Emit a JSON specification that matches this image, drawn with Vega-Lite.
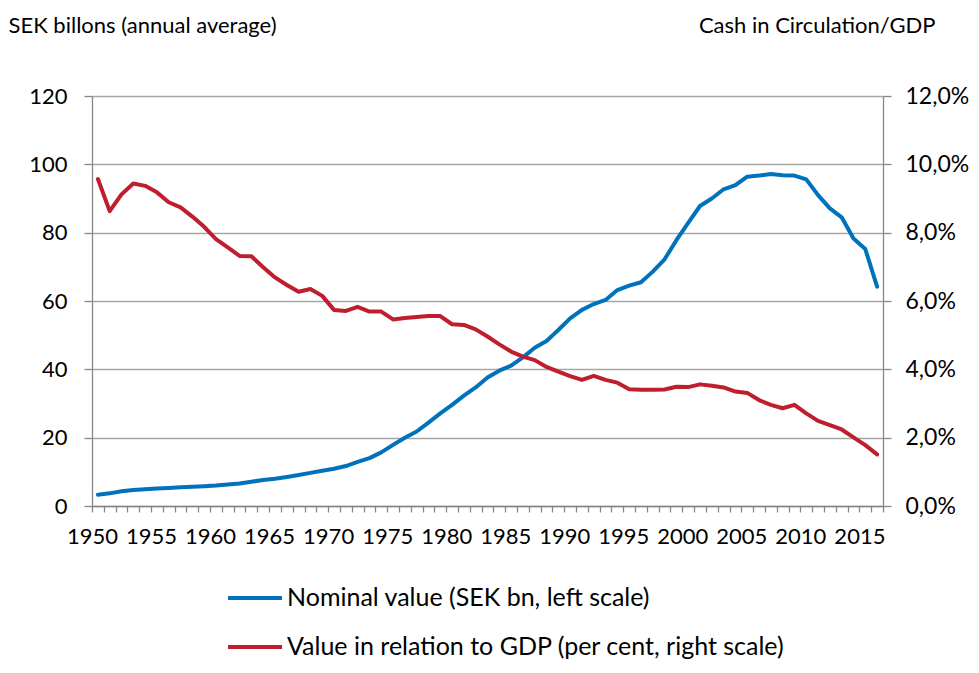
{
  "$schema": "https://vega.github.io/schema/vega-lite/v6.json",
  "width": 791,
  "height": 410,
  "autosize": {"type": "none"},
  "padding": {"left": 92, "top": 96, "right": 96, "bottom": 167},
  "background": "white",
  "config": {
    "font": "Lato",
    "view": {"stroke": null},
    "axis": {
      "labelFont": "Lato",
      "labelFontSize": 22,
      "labelColor": "#000000",
      "titleFont": "Lato",
      "titleFontSize": 22,
      "titleFontWeight": "normal",
      "titleColor": "#000000",
      "domainColor": "#868686",
      "domainWidth": 1.3,
      "tickColor": "#868686",
      "tickWidth": 1.3,
      "gridColor": "#A6A6A6",
      "gridWidth": 1.3
    },
    "legend": {
      "labelFont": "Lato",
      "labelFontSize": 25,
      "labelColor": "#000000",
      "labelLimit": 0,
      "symbolType": "stroke",
      "symbolSize": 2916,
      "symbolStrokeWidth": 4,
      "labelOffset": 3,
      "rowPadding": 7,
      "padding": 0
    }
  },
  "data": {
    "values": [
      {"year": 1950, "nominal": 3.3, "ratio": 9.57},
      {"year": 1951, "nominal": 3.7, "ratio": 8.63},
      {"year": 1952, "nominal": 4.3, "ratio": 9.12},
      {"year": 1953, "nominal": 4.7, "ratio": 9.44},
      {"year": 1954, "nominal": 4.9, "ratio": 9.37},
      {"year": 1955, "nominal": 5.1, "ratio": 9.18},
      {"year": 1956, "nominal": 5.3, "ratio": 8.89},
      {"year": 1957, "nominal": 5.5, "ratio": 8.74},
      {"year": 1958, "nominal": 5.65, "ratio": 8.47},
      {"year": 1959, "nominal": 5.8, "ratio": 8.17},
      {"year": 1960, "nominal": 6.0, "ratio": 7.81},
      {"year": 1961, "nominal": 6.3, "ratio": 7.57},
      {"year": 1962, "nominal": 6.6, "ratio": 7.32},
      {"year": 1963, "nominal": 7.1, "ratio": 7.31},
      {"year": 1964, "nominal": 7.6, "ratio": 6.99},
      {"year": 1965, "nominal": 8.0, "ratio": 6.69},
      {"year": 1966, "nominal": 8.5, "ratio": 6.47},
      {"year": 1967, "nominal": 9.05, "ratio": 6.27},
      {"year": 1968, "nominal": 9.7, "ratio": 6.35},
      {"year": 1969, "nominal": 10.3, "ratio": 6.15},
      {"year": 1970, "nominal": 10.9, "ratio": 5.74},
      {"year": 1971, "nominal": 11.7, "ratio": 5.71},
      {"year": 1972, "nominal": 12.9, "ratio": 5.83},
      {"year": 1973, "nominal": 14.0, "ratio": 5.69},
      {"year": 1974, "nominal": 15.7, "ratio": 5.69},
      {"year": 1975, "nominal": 17.9, "ratio": 5.46},
      {"year": 1976, "nominal": 20.0, "ratio": 5.5},
      {"year": 1977, "nominal": 21.8, "ratio": 5.53},
      {"year": 1978, "nominal": 24.4, "ratio": 5.56},
      {"year": 1979, "nominal": 27.1, "ratio": 5.56},
      {"year": 1980, "nominal": 29.6, "ratio": 5.32},
      {"year": 1981, "nominal": 32.3, "ratio": 5.3},
      {"year": 1982, "nominal": 34.7, "ratio": 5.17},
      {"year": 1983, "nominal": 37.6, "ratio": 4.96},
      {"year": 1984, "nominal": 39.6, "ratio": 4.73},
      {"year": 1985, "nominal": 41.1, "ratio": 4.52},
      {"year": 1986, "nominal": 43.5, "ratio": 4.37},
      {"year": 1987, "nominal": 46.3, "ratio": 4.27},
      {"year": 1988, "nominal": 48.3, "ratio": 4.07},
      {"year": 1989, "nominal": 51.5, "ratio": 3.93},
      {"year": 1990, "nominal": 54.9, "ratio": 3.8},
      {"year": 1991, "nominal": 57.4, "ratio": 3.69},
      {"year": 1992, "nominal": 59.1, "ratio": 3.81},
      {"year": 1993, "nominal": 60.3, "ratio": 3.69},
      {"year": 1994, "nominal": 63.2, "ratio": 3.61},
      {"year": 1995, "nominal": 64.5, "ratio": 3.42},
      {"year": 1996, "nominal": 65.5, "ratio": 3.4},
      {"year": 1997, "nominal": 68.6, "ratio": 3.4},
      {"year": 1998, "nominal": 72.2, "ratio": 3.41},
      {"year": 1999, "nominal": 77.8, "ratio": 3.49},
      {"year": 2000, "nominal": 82.9, "ratio": 3.48},
      {"year": 2001, "nominal": 87.8, "ratio": 3.56},
      {"year": 2002, "nominal": 90.0, "ratio": 3.52},
      {"year": 2003, "nominal": 92.7, "ratio": 3.47},
      {"year": 2004, "nominal": 93.9, "ratio": 3.35},
      {"year": 2005, "nominal": 96.4, "ratio": 3.31},
      {"year": 2006, "nominal": 96.7, "ratio": 3.1},
      {"year": 2007, "nominal": 97.2, "ratio": 2.96},
      {"year": 2008, "nominal": 96.8, "ratio": 2.86},
      {"year": 2009, "nominal": 96.7, "ratio": 2.96},
      {"year": 2010, "nominal": 95.6, "ratio": 2.71},
      {"year": 2011, "nominal": 91.0, "ratio": 2.49},
      {"year": 2012, "nominal": 87.1, "ratio": 2.37},
      {"year": 2013, "nominal": 84.5, "ratio": 2.24},
      {"year": 2014, "nominal": 78.3, "ratio": 2.01},
      {"year": 2015, "nominal": 75.2, "ratio": 1.78},
      {"year": 2016, "nominal": 64.2, "ratio": 1.51}
    ]
  },
  "encoding": {
    "x": {
      "field": "year",
      "type": "quantitative",
      "scale": {"domain": [1949.5, 2016.5], "nice": false, "zero": false},
      "axis": {
        "title": null,
        "grid": false,
        "values": [1949.5,1950.5,1951.5,1952.5,1953.5,1954.5,1955.5,1956.5,1957.5,1958.5,1959.5,1960.5,1961.5,1962.5,1963.5,1964.5,1965.5,1966.5,1967.5,1968.5,1969.5,1970.5,1971.5,1972.5,1973.5,1974.5,1975.5,1976.5,1977.5,1978.5,1979.5,1980.5,1981.5,1982.5,1983.5,1984.5,1985.5,1986.5,1987.5,1988.5,1989.5,1990.5,1991.5,1992.5,1993.5,1994.5,1995.5,1996.5,1997.5,1998.5,1999.5,2000.5,2001.5,2002.5,2003.5,2004.5,2005.5,2006.5,2007.5,2008.5,2009.5,2010.5,2011.5,2012.5,2013.5,2014.5,2015.5,2016.5],
        "labelExpr": "(datum.value + 0.5) % 5 == 0 ? toString(datum.value + 0.5) : ''",
        "labelFontSize": 22,
        "labelDx": 5.9,
        "labelFlush": false,
        "labelOverlap": false,
        "labelBound": false,
        "tickSize": 6,
        "labelPadding": 14
      }
    }
  },
  "layer": [
    {
      "mark": {"type": "line", "strokeWidth": 4, "strokeJoin": "round", "strokeCap": "round"},
      "encoding": {
        "y": {
          "field": "nominal",
          "type": "quantitative",
          "scale": {"domain": [0, 120], "nice": false},
          "axis": {
            "orient": "left",
            "values": [0, 20, 40, 60, 80, 100, 120],
            "grid": true,
            "tickSize": 8,
            "labelPadding": 17,
            "title": "SEK billons (annual average)",
            "titleAngle": 0,
            "titleAlign": "left",
            "titleBaseline": "middle",
            "titleX": -84,
            "titleY": -71
          }
        },
        "color": {
          "datum": "Nominal value (SEK bn, left scale)",
          "scale": {
            "domain": ["Nominal value (SEK bn, left scale)", "Value in relation to GDP (per cent, right scale)"],
            "range": ["#0072BC", "#BE1E2D"]
          },
          "legend": {"title": null, "orient": "none", "legendX": 134, "legendY": 473}
        }
      }
    },
    {
      "mark": {"type": "line", "strokeWidth": 4, "strokeJoin": "round", "strokeCap": "round"},
      "encoding": {
        "y": {
          "field": "ratio",
          "type": "quantitative",
          "scale": {"domain": [0, 12], "nice": false},
          "axis": {
            "orient": "right",
            "values": [0, 2, 4, 6, 8, 10, 12],
            "grid": false,
            "tickSize": 8,
            "labelPadding": 14,
            "labelFontSize": 23,
            "labelExpr": "replace(format(datum.value, '.1f'), '.', ',') + '%'",
            "title": "Cash in Circulation/GDP",
            "titleAngle": 0,
            "titleAlign": "right",
            "titleBaseline": "middle",
            "titleX": 52,
            "titleY": -71
          }
        },
        "color": {"datum": "Value in relation to GDP (per cent, right scale)"}
      }
    }
  ],
  "resolve": {"scale": {"y": "independent"}}
}
